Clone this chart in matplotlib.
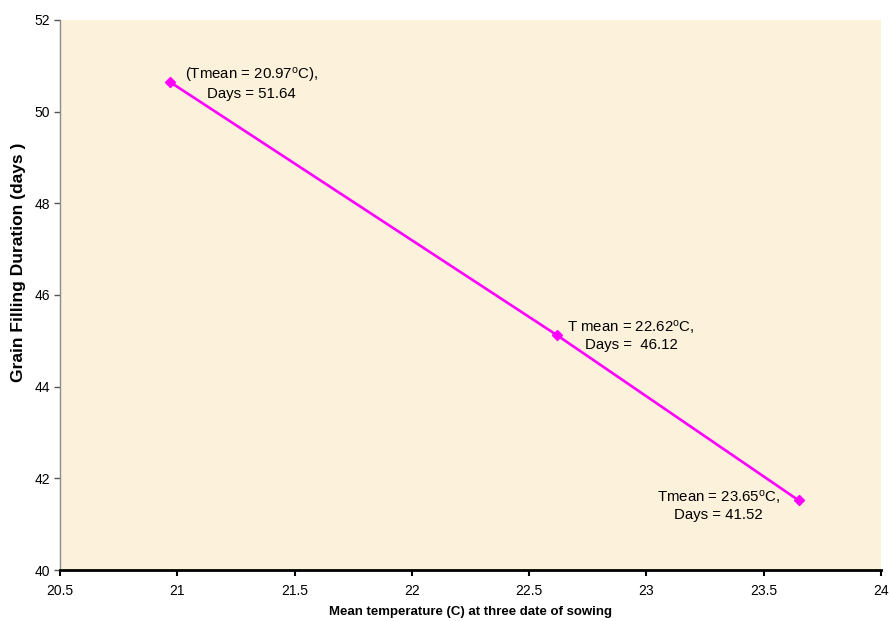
import matplotlib
matplotlib.use("Agg")
import matplotlib.pyplot as plt

plt.rcParams['font.family'] = ['Liberation Sans', 'DejaVu Sans']
plt.rcParams['mathtext.fontset'] = 'custom'
plt.rcParams['mathtext.rm'] = 'Liberation Sans'
plt.rcParams['mathtext.it'] = 'Liberation Sans:italic'
plt.rcParams['mathtext.bf'] = 'Liberation Sans:bold'

# Mean temperature at the three sowing dates and the grain filling duration
t_mean = [20.97, 22.62, 23.65]
gfd_days = [50.64, 45.12, 41.52]
point_labels = [
    "(Tmean = 20.97$^{\\mathrm{o}}$C),\nDays = 51.64",
    "T mean = 22.62$^{\\mathrm{o}}$C,\nDays =  46.12",
    "Tmean = 23.65$^{\\mathrm{o}}$C,\nDays = 41.52",
]
x_ticks = [20.5, 21, 21.5, 22, 22.5, 23, 23.5, 24]
y_ticks = [40, 42, 44, 46, 48, 50, 52]

x_label = "Mean temperature (C) at three date of sowing"
y_label = "Grain Filling Duration (days )"

fig = plt.figure(figsize=(8.91, 6.21), dpi=100, facecolor="white")
ax = fig.add_axes([0.0675, 0.082, 0.921, 0.886])
ax.set_facecolor("#FCF1DA")

ax.plot(t_mean, gfd_days, color="#FF00FF", linewidth=1.9,
        marker="D", markersize=5.5, markerfacecolor="#FF00FF",
        markeredgecolor="#FF00FF", zorder=3)

ax.set_xlim(20.5, 24)
ax.set_ylim(40, 52)
ax.set_xticks(x_ticks)
ax.set_xticklabels([f"{v:g}" for v in x_ticks])
ax.set_yticks(y_ticks)

for side in ("top", "right"):
    ax.spines[side].set_visible(False)
ax.spines["left"].set_color("#8c8c8c")
ax.spines["left"].set_linewidth(1.0)
ax.spines["bottom"].set_color("black")
ax.spines["bottom"].set_linewidth(2.0)

ax.tick_params(axis="y", direction="out", length=4, width=1, color="#555555",
               labelsize=10, pad=3)
ax.tick_params(axis="x", direction="out", length=4, width=1.5, color="black",
               labelsize=10, pad=6)

ax.set_xlabel(x_label, fontsize=9.5, fontweight="bold", labelpad=6)
ax.set_ylabel(y_label, fontsize=12.5, fontweight="bold")
ax.yaxis.set_label_coords(-0.042, 0.56)

offsets = [(81, -1), (74, 0), (-80, -5)]
for x, y, txt, off in zip(t_mean, gfd_days, point_labels, offsets):
    ax.annotate(txt, xy=(x, y), xytext=off, textcoords="offset pixels",
                ha="center", va="center", multialignment="center",
                fontsize=10.8, linespacing=1.2, color="black")

fig.savefig("out.png", dpi=100, facecolor=fig.get_facecolor())
